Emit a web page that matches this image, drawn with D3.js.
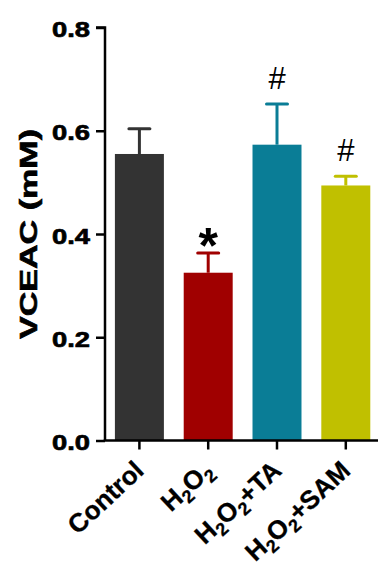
<!DOCTYPE html>
<html>
<head>
<meta charset="utf-8">
<script src="https://cdn.jsdelivr.net/npm/d3@7"></script>
<style>
  html, body { margin: 0; padding: 0; background: #fff; }
  svg { display: block; font-family: "Liberation Sans", Arial, sans-serif; }
</style>
</head>
<body>
<svg id="chart" width="378" height="568"></svg>
<script>
// ---- data ----
const categories = ["Control", "H2O2", "H2O2+TA", "H2O2+SAM"];
const means = [0.555, 0.325, 0.573, 0.494];
const sems = [0.049, 0.038, 0.079, 0.018];
const colors = ["#333333", "#a00000", "#0a7d96", "#c0c000"];
const marks = ["", "*", "#", "#"];
const yTicks = [0.0, 0.2, 0.4, 0.6, 0.8];
const yTitle = "VCEAC (mM)";

// label pieces: [text, isSubscript]
const labelParts = [
  [["Control", false]],
  [["H", false], ["2", true], ["O", false], ["2", true]],
  [["H", false], ["2", true], ["O", false], ["2", true], ["+TA", false]],
  [["H", false], ["2", true], ["O", false], ["2", true], ["+SAM", false]]
];

const svg = d3.select("#chart");
const axisX = 105;
const x = d3.scaleBand().domain(categories).range([axisX, 380.2])
  .paddingInner(0.288).paddingOuter(0.144);
const y = d3.scaleLinear().domain([0, 0.8]).range([440.5, 27.5]);

// bars
svg.append("g").selectAll("rect").data(categories).join("rect")
  .attr("x", d => x(d))
  .attr("width", x.bandwidth())
  .attr("y", (d, i) => y(means[i]))
  .attr("height", (d, i) => y(0) - y(means[i]))
  .attr("fill", (d, i) => colors[i]);

// error bars (upper only)
const eg = svg.append("g");
categories.forEach((c, i) => {
  const cx = x(c) + x.bandwidth() / 2;
  eg.append("line")
    .attr("x1", cx).attr("x2", cx)
    .attr("y1", y(means[i])).attr("y2", y(means[i] + sems[i]))
    .attr("stroke", colors[i]).attr("stroke-width", 3);
  eg.append("line")
    .attr("x1", cx - 10.5).attr("x2", cx + 10.5)
    .attr("y1", y(means[i] + sems[i])).attr("y2", y(means[i] + sems[i]))
    .attr("stroke", colors[i]).attr("stroke-width", 3)
    .attr("stroke-linecap", "round");
});

// significance marks
categories.forEach((c, i) => {
  if (!marks[i]) return;
  const cx = x(c) + x.bandwidth() / 2;
  const t = svg.append("text")
    .attr("x", cx)
    .attr("text-anchor", "middle")
    .attr("fill", "#000")
    .text(marks[i]);
  if (marks[i] === "*") {
    t.attr("y", y(means[i] + sems[i]) + 10)
     .attr("font-size", 50).attr("font-weight", "bold");
  } else {
    t.attr("y", y(means[i] + sems[i]) - 15)
     .attr("font-size", 31).attr("font-weight", "normal");
  }
});

// y axis
const yAxis = d3.axisLeft(y).tickValues(yTicks).tickFormat(d3.format(".1f"))
  .tickSize(9).tickPadding(6);
const yg = svg.append("g").attr("transform", `translate(${axisX},0)`).call(yAxis);
yg.select(".domain").attr("stroke", "#000").attr("stroke-width", 2.5)
  .attr("d", `M-9,${y(0.8)}H0V${y(0)}`);
yg.selectAll(".tick line").attr("stroke", "#000").attr("stroke-width", 2.5);
yg.selectAll(".tick text")
  .attr("font-size", 22.5).attr("font-weight", "bold").attr("fill", "#000")
  .attr("stroke", "#000").attr("stroke-width", 0.7)
  .attr("font-family", "'Liberation Sans', Arial, sans-serif")
  .attr("dy", "0.40em")
  .attr("textLength", 38).attr("lengthAdjust", "spacingAndGlyphs");

// x axis
const xAxis = d3.axisBottom(x).tickSize(9).tickFormat("").tickSizeOuter(0);
const xg = svg.append("g").attr("transform", `translate(0,${y(0)})`).call(xAxis);
xg.select(".domain").attr("stroke", "#000").attr("stroke-width", 2.5)
  .attr("d", `M${axisX - 1.25},0H378`);
xg.selectAll(".tick line").attr("stroke", "#000").attr("stroke-width", 2.5);

// x labels
categories.forEach((c, i) => {
  const cx = x(c) + x.bandwidth() / 2;
  const t = svg.append("text")
    .attr("transform", `translate(${cx + 6},${y(0) + 32}) rotate(-43)`)
    .attr("text-anchor", "end")
    .attr("font-size", 26).attr("font-weight", "bold").attr("fill", "#000")
    .attr("stroke", "#000").attr("stroke-width", 0.3);
  labelParts[i].forEach(([s, sub], k) => {
    const prevSub = k > 0 && labelParts[i][k - 1][1];
    const ts = t.append("tspan").text(s);
    if (sub) ts.attr("font-size", 18).attr("dy", 6);
    else if (prevSub) ts.attr("dy", -6);
  });
});

// y title
svg.append("text")
  .attr("transform", `translate(37,234) rotate(-90)`)
  .attr("text-anchor", "middle")
  .attr("font-size", 24).attr("font-weight", "bold").attr("fill", "#000")
  .attr("stroke", "#000").attr("stroke-width", 0.6)
  .attr("textLength", 210).attr("lengthAdjust", "spacingAndGlyphs")
  .text(yTitle);
</script>
</body>
</html>
